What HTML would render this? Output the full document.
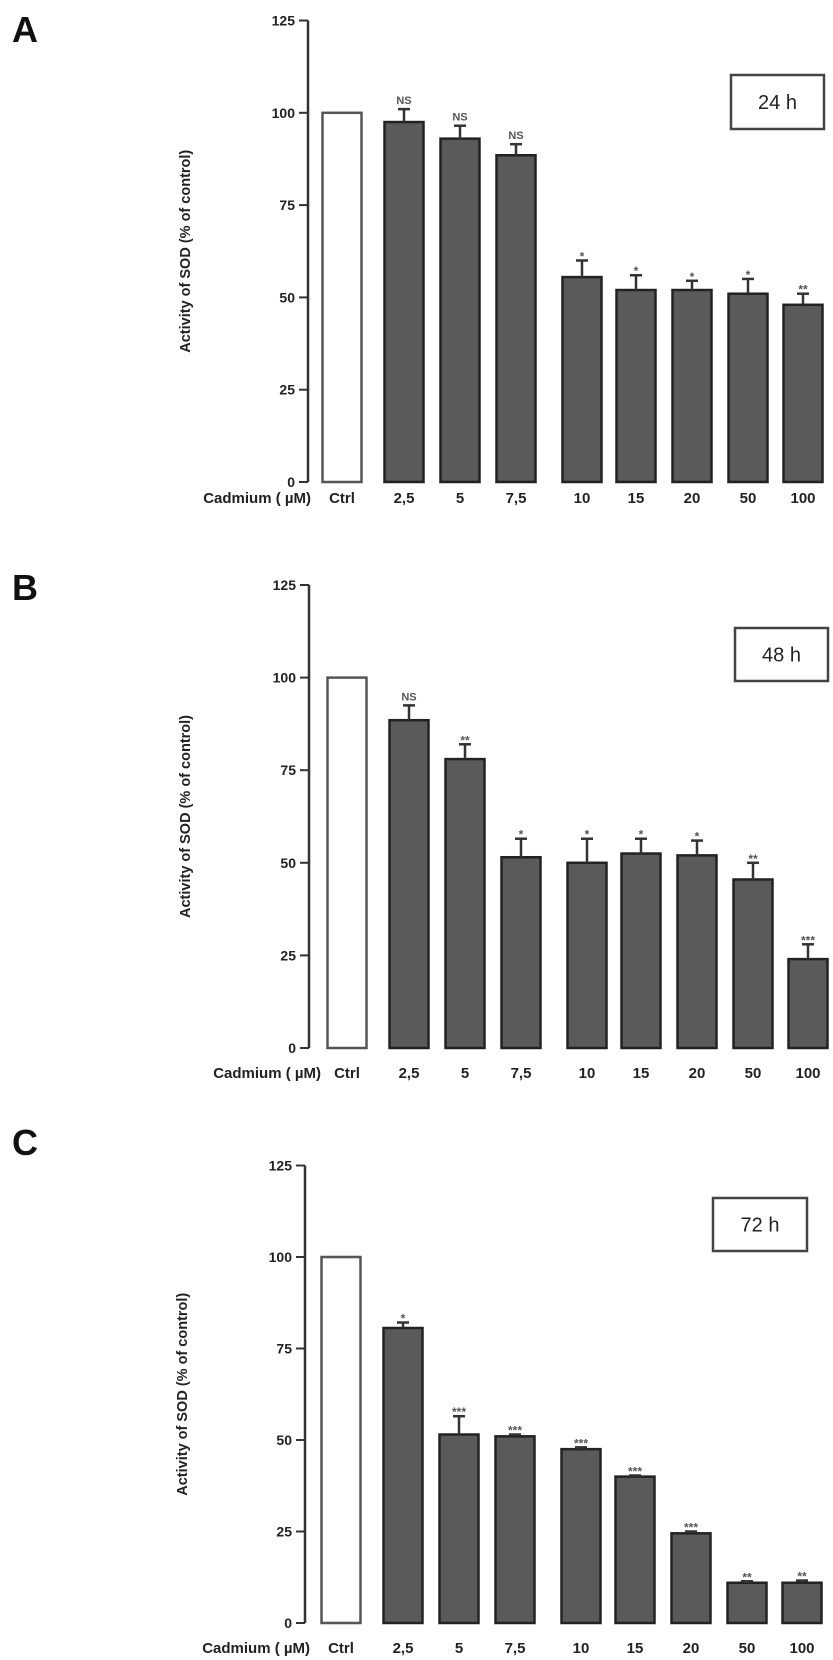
<!DOCTYPE html>
<html><head><meta charset="utf-8"><style>
html,body{margin:0;padding:0;background:#fff;}
svg{display:block;font-family:"Liberation Sans",Arial,sans-serif;}
</style></head><body>
<svg id="fig" width="833" height="1660" viewBox="0 0 833 1660" xmlns="http://www.w3.org/2000/svg"></svg>
<script>
const categories = ["Ctrl","2,5","5","7,5","10","15","20","50","100"];
const values24 = [100, 97.5, 93, 88.5, 55.5, 52, 52, 51, 48];
const errors24 = [0, 3.5, 3.5, 3, 4.5, 4, 2.5, 4, 3];
const sig24 = ["", "NS","NS","NS","*","*","*","*","**"];
const values48 = [100, 88.5, 78, 51.5, 50, 52.5, 52, 45.5, 24];
const errors48 = [0, 4, 4, 5, 6.5, 4, 4, 4.5, 4];
const sig48 = ["", "NS","**","*","*","*","*","**","***"];
const values72 = [100, 80.6, 51.5, 51, 47.5, 40, 24.5, 11, 11];
const errors72 = [0, 1.5, 5, 0.5, 0.5, 0.3, 0.5, 0.4, 0.6];
const sig72 = ["", "*","***","***","***","***","***","**","**"];
const yTicks = [0, 25, 50, 75, 100, 125];

const NS = "http://www.w3.org/2000/svg";
const svg = document.getElementById("fig");
function mk(tag, attrs, parent){
  const e = document.createElementNS(NS, tag);
  for (const k in attrs) e.setAttribute(k, attrs[k]);
  (parent||svg).appendChild(e);
  return e;
}
const baseCenters = [342,404,460,516,582,636,692,748,803];

function panel(opt){
  const g = mk("g", {});
  
  
  const y0 = opt.y0, step = opt.step;
  const yScale = v => y0 - v / 25 * step;
  const xc = i => baseCenters[i] + opt.dx;
  const bw = 39;
  const L = mk("text", {x: 12, y: opt.letterY, "font-size": 36, "font-weight": "bold", fill: "#111"}, g);
  L.textContent = opt.letter;
  
  
  const ax = mk("line", {x1: opt.ax, x2: opt.ax, y1: yScale(125), y2: y0, stroke: "#333", "stroke-width": 2.5}, g);
  
  
  yTicks.forEach(t => {
    const y = yScale(t);
    const tk = mk("line", {x1: opt.ax - 9, x2: opt.ax, y1: y, y2: y, stroke: "#333", "stroke-width": 2}, g);
    
    
    const tl = mk("text", {x: opt.ax - 13, y: y + 5, "font-size": 14, "font-weight": "bold", "text-anchor": "end", fill: "#222"}, g);
    tl.textContent = t;
    
    
  });
  const yt = mk("text", {x: 0, y: 0, "font-size": 14.5, "font-weight": "bold", "text-anchor": "middle", fill: "#222",
    transform: "translate(" + opt.titleX + "," + yScale(62.5) + ") rotate(-90)"}, g);
  yt.textContent = "Activity of SOD (% of  control)";
  
  
  opt.values.forEach((v, i) => {
    const x = xc(i) - bw/2, top = yScale(v);
    const r = mk("rect", {x: x, y: top, width: bw, height: y0 - top,
      fill: i === 0 ? "#fff" : "#5a5a5a", stroke: i === 0 ? "#555" : "#222", "stroke-width": 2.5}, g);
    
    
    const e = opt.errors[i];
    let labelY = top - 6;
    if (e > 0) {
      const et = yScale(v + e);
      const el = mk("line", {x1: xc(i), x2: xc(i), y1: top, y2: et, stroke: "#333", "stroke-width": 2.5}, g);
      
      
      const cap = mk("line", {x1: xc(i) - 6, x2: xc(i) + 6, y1: et, y2: et, stroke: "#333", "stroke-width": 2.5}, g);
      
      
      labelY = et - 5;
    }
    if (opt.sig[i]) {
      const s = mk("text", {x: xc(i), y: labelY + (opt.sig[i] === "NS" ? 0 : 5), "font-size": opt.sig[i] === "NS" ? 11 : 12,
        "text-anchor": "middle", fill: "#555", "font-weight": "bold"}, g);
      s.textContent = opt.sig[i];
      
      
    }
    const cl = mk("text", {x: xc(i), y: opt.labelY, "font-size": 15, "font-weight": "bold", "text-anchor": "middle", fill: "#222"}, g);
    cl.textContent = categories[i];
    
    
  });
  const cad = mk("text", {x: opt.cadX, y: opt.labelY, "font-size": 15, "font-weight": "bold", "text-anchor": "end", fill: "#222"}, g);
  cad.textContent = "Cadmium ( \u00b5M)";
  
  
  const b = opt.box;
  const br = mk("rect", {x: b[0], y: b[1], width: b[2], height: b[3], fill: "#fff", stroke: "#444", "stroke-width": 2.5}, g);
  
  
  const bt = mk("text", {x: b[0] + b[2]/2, y: b[1] + b[3]/2 + 7, "font-size": 20, "text-anchor": "middle", fill: "#222"}, g);
  bt.textContent = opt.time;
  
  
}

panel({letter: "A", letterY: 42, ax: 308, y0: 482, step: 92.3, dx: 0, titleX: 190, labelY: 503, cadX: 311,
  values: values24, errors: errors24, sig: sig24, box: [731, 75, 93, 54], time: "24 h"});
panel({letter: "B", letterY: 600, ax: 309, y0: 1048, step: 92.6, dx: 5, titleX: 190, labelY: 1078, cadX: 321,
  values: values48, errors: errors48, sig: sig48, box: [735, 628, 93, 53], time: "48 h"});
panel({letter: "C", letterY: 1155, ax: 305, y0: 1623, step: 91.5, dx: -1, titleX: 187, labelY: 1653, cadX: 310,
  values: values72, errors: errors72, sig: sig72, box: [713, 1198, 94, 53], time: "72 h"});
</script>
</body></html>
